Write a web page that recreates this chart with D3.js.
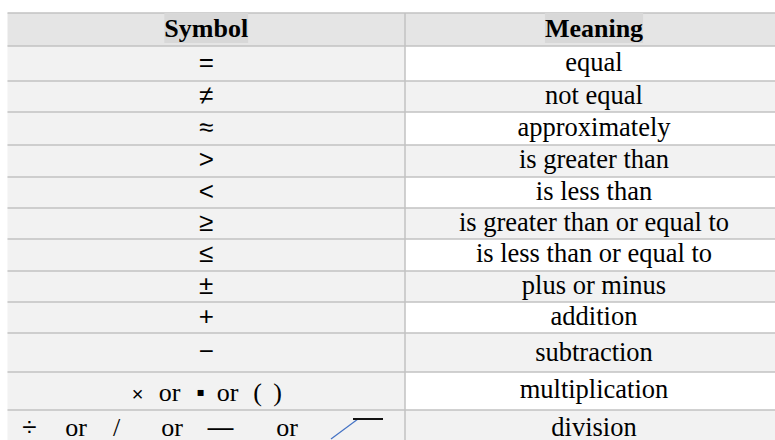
<!DOCTYPE html>
<html>
<head>
<meta charset="utf-8">
<script src="https://cdn.jsdelivr.net/npm/d3@7"></script>
<style>
body{margin:0;background:#fff;overflow:hidden}
</style>
</head>
<body>
<div class="visualisation"></div>
<script>
//----------------------------------------------------------------------------------------------------------------------------
//DATA
//----------------------------------------------------------------------------------------------------------------------------
var columns  = ["Symbol", "Meaning"];
var symbols  = ["=", "≠", "≈", ">", "<", "≥", "≤", "±", "+", "−", "× or ▪ or ( )", "÷ or / or — or"];
var meanings = ["equal", "not equal", "approximately", "is greater than", "is less than",
                "is greater than or equal to", "is less than or equal to", "plus or minus",
                "addition", "subtraction", "multiplication", "division"];

//----------------------------------------------------------------------------------------------------------------------------
//LAYOUT
//----------------------------------------------------------------------------------------------------------------------------
var W = 775, H = 440;
var tLeft = 7.5, tMid = 405, tRight = 783, tTop = 13;
var rowHeights = [33, 35, 31, 33, 32, 31, 31, 32, 31, 31, 39, 38, 38];   // header first
var serif = "'Liberation Serif','Times New Roman',serif";
var sans  = "'Liberation Sans',Arial,'DejaVu Sans',sans-serif";

// cumulative row tops
var rowTops = [tTop];
rowHeights.forEach(function(h, i){ rowTops.push(rowTops[i] + h); });

var x = d3.scaleOrdinal().domain(columns).range([tLeft, tMid]);
var colW = {Symbol: tMid - tLeft, Meaning: tRight - tMid};

var svg = d3.select(".visualisation").append("svg")
    .attr("width", W)
    .attr("height", H);

var rows = symbols.map(function(s, i){ return {symbol: s, meaning: meanings[i], i: i + 1}; });

//----------------------------------------------------------------------------------------------------------------------------
//BACKGROUNDS
//----------------------------------------------------------------------------------------------------------------------------
svg.append("rect")
    .attr("x", tLeft).attr("y", rowTops[0])
    .attr("width", tRight - tLeft).attr("height", rowHeights[0])
    .attr("fill", "#e5e5e5");

var body = svg.append("g").attr("class", "body");

body.selectAll("rect.sym")
    .data(rows)
  .enter().append("rect")
    .attr("class", "sym")
    .attr("x", x("Symbol"))
    .attr("y", function(d){ return rowTops[d.i]; })
    .attr("width", colW.Symbol)
    .attr("height", function(d){ return rowHeights[d.i]; })
    .attr("fill", "#f2f2f2");

body.selectAll("rect.mean")
    .data(rows)
  .enter().append("rect")
    .attr("class", "mean")
    .attr("x", x("Meaning"))
    .attr("y", function(d){ return rowTops[d.i]; })
    .attr("width", colW.Meaning)
    .attr("height", function(d){ return rowHeights[d.i]; })
    .attr("fill", function(d){ return d.i % 2 === 0 ? "#f2f2f2" : "#ffffff"; });

//----------------------------------------------------------------------------------------------------------------------------
//GRID LINES
//----------------------------------------------------------------------------------------------------------------------------
svg.selectAll("line.h")
    .data(rowTops)
  .enter().append("line")
    .attr("class", "h")
    .attr("x1", tLeft).attr("x2", tRight)
    .attr("y1", function(d){ return d; })
    .attr("y2", function(d){ return d; })
    .attr("stroke", "#c2c2c2")
    .attr("stroke-width", 1.5);

svg.append("line")
    .attr("x1", tMid).attr("x2", tMid)
    .attr("y1", tTop).attr("y2", H)
    .attr("stroke", "#c2c2c2")
    .attr("stroke-width", 1.5);

//----------------------------------------------------------------------------------------------------------------------------
//HEADER
//----------------------------------------------------------------------------------------------------------------------------
var header = svg.selectAll("g.head")
    .data(columns)
  .enter().append("g")
    .attr("class", "head");

header.append("rect").attr("fill", "#d8d8d8");

header.append("text")
    .attr("x", function(d){ return x(d) + colW[d] / 2; })
    .attr("y", rowTops[0] + rowHeights[0] / 2 + 7)
    .attr("text-anchor", "middle")
    .attr("font-family", serif)
    .attr("font-weight", "bold")
    .attr("font-size", 26)
    .attr("fill", "#000")
    .text(function(d){ return d; });

header.each(function(){
    var g = d3.select(this);
    var b = g.select("text").node().getBBox();
    g.select("rect")
        .attr("x", b.x).attr("width", b.width)
        .attr("y", rowTops[0]).attr("height", 30);
});

//----------------------------------------------------------------------------------------------------------------------------
//CELLS
//----------------------------------------------------------------------------------------------------------------------------
function baseline(i, extra){ return rowTops[i] + rowHeights[i] / 2 + 7 + (extra || 0); }

body.selectAll("text.mean")
    .data(rows)
  .enter().append("text")
    .attr("class", "mean")
    .attr("x", x("Meaning") + colW.Meaning / 2)
    .attr("y", function(d){ return baseline(d.i, d.i === 10 ? 1 : 0); })
    .attr("text-anchor", "middle")
    .attr("font-family", serif)
    .attr("font-size", 26.5)
    .attr("fill", "#000")
    .text(function(d){ return d.meaning; });

// single glyph symbols
var single = rows.filter(function(d){ return d.symbol.indexOf(" ") < 0; });
body.selectAll("text.sym")
    .data(single)
  .enter().append("text")
    .attr("class", "sym")
    .attr("x", x("Symbol") + colW.Symbol / 2)
    .attr("y", function(d){ return baseline(d.i); })
    .attr("text-anchor", "middle")
    .attr("font-family", sans)
    .attr("font-size", 26)
    .attr("fill", "#000")
    .text(function(d){ return d.symbol; });

// multi part symbols, part centres relative to the cell
var partCentres = {
    11: [130, 162, 193, 220, 250, 270],
    12: [22, 68.5, 109, 164.5, 213, 279.5]
};
var multi = rows.filter(function(d){ return d.symbol.indexOf(" ") >= 0; });
multi.forEach(function(d){
    var parts = d.symbol.split(" ");
    var y = baseline(d.i, d.i === 11 ? 3 : 0);
    body.selectAll("text.part" + d.i)
        .data(parts)
      .enter().append("text")
        .attr("class", "part" + d.i)
        .attr("x", function(p, j){ return x("Symbol") + partCentres[d.i][j]; })
        .attr("y", function(p){ return p === "▪" ? y - 5 : y; })
        .attr("text-anchor", "middle")
        .attr("font-family", function(p){ return /^(or|\(|\)|\/)$/.test(p) ? serif : p === "▪" ? "'DejaVu Sans',sans-serif" : sans; })
        .attr("font-size", function(p){ return p === "▪" ? 12 : p === "×" ? 20 : 26; })
        .attr("fill", "#000")
        .text(function(p){ return p; });
});

// long division sign at the end of the last row
var ld = rowTops[12];
svg.append("line")
    .attr("x1", x("Symbol") + 323.5).attr("y1", ld + 29)
    .attr("x2", x("Symbol") + 350.5).attr("y2", ld + 9)
    .attr("stroke", "#4472c4").attr("stroke-width", 1.2);
svg.append("line")
    .attr("x1", x("Symbol") + 345.5).attr("y1", ld + 9)
    .attr("x2", x("Symbol") + 375.5).attr("y2", ld + 9)
    .attr("stroke", "#111").attr("stroke-width", 2);
</script>
</body>
</html>
